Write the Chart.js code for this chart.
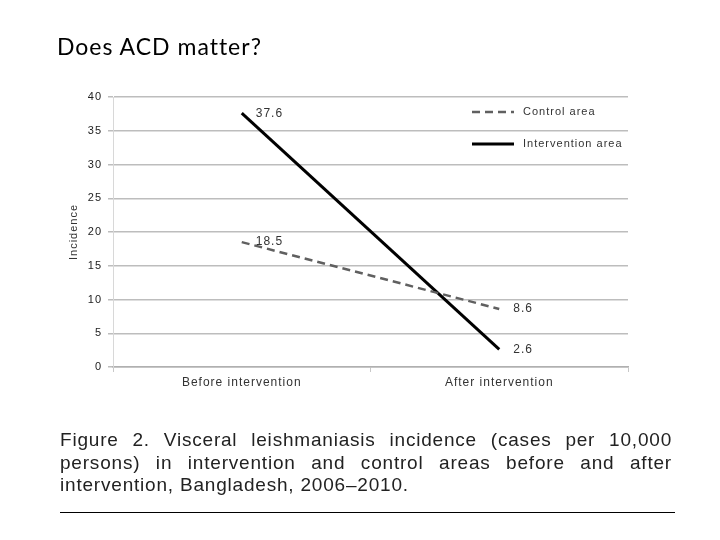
<!DOCTYPE html>
<html>
<head>
<meta charset="utf-8">
<script src="https://cdn.jsdelivr.net/npm/chart.js@4"></script>
<style>
  body { margin: 0; background: #fff; }
  #page { position: relative; width: 720px; height: 540px; overflow: hidden; }
  #chartWrap { position: absolute; left: 0; top: 0; width: 720px; height: 540px; }
  #title { position: absolute; left: 57px; top: 32px; font-family: Lato, sans-serif; font-size: 23px; letter-spacing: 1px; font-variant-ligatures: none; color: #000; }
  #caption { position: absolute; left: 60px; top: 429px; width: 612px; font-family: "Liberation Sans", Arial, sans-serif; font-size: 19px; letter-spacing: 0.8px; line-height: 22.5px; color: #222; }
  #caption div { text-align: justify; text-align-last: justify; white-space: nowrap; }
  #caption div.last { text-align-last: left; }
  #rule { position: absolute; left: 60px; top: 512px; width: 615px; height: 1px; background: #000; }
</style>
</head>
<body>
<div id="page">
  <div id="chartWrap"><canvas id="lineChart"></canvas></div>
  <div id="title">Does ACD matter?</div>
  <div id="caption">
    <div>Figure 2. Visceral leishmaniasis incidence (cases per 10,000</div>
    <div>persons) in intervention and control areas before and after</div>
    <div class="last">intervention, Bangladesh, 2006–2010.</div>
  </div>
  <div id="rule"></div>
</div>
<script>
var categories = ["Before intervention", "After intervention"];
var controlArea = [18.5, 8.6];
var interventionArea = [37.6, 2.6];
var yTicks = [0, 5, 10, 15, 20, 25, 30, 35, 40];

var FONT = '"Liberation Sans", Arial, sans-serif';

// the original figure's text is wide, so space the letters out a bit
var spacing = {
  id: 'spacing',
  beforeDraw: function(chart) {
    chart.ctx.letterSpacing = '1px';
  }
};

// value labels beside each point
var pointLabels = {
  id: 'pointLabels',
  afterDatasetsDraw: function(chart) {
    var ctx = chart.ctx;
    ctx.save();
    ctx.font = '12px ' + FONT;
    ctx.fillStyle = '#333';
    ctx.textAlign = 'left';
    ctx.textBaseline = 'middle';
    chart.data.datasets.forEach(function(ds, i) {
      chart.getDatasetMeta(i).data.forEach(function(pt, j) {
        ctx.fillText(ds.data[j].toFixed(1), pt.x + 14, pt.y);
      });
    });
    ctx.restore();
  }
};

// legend sits inside the plot, top right
var innerLegend = {
  id: 'innerLegend',
  afterDraw: function(chart) {
    var ctx = chart.ctx;
    var a = chart.chartArea;
    var x0 = a.right - 156;
    ctx.save();
    ctx.font = '11px ' + FONT;
    ctx.textBaseline = 'middle';
    chart.data.datasets.forEach(function(ds, i) {
      var y = a.top + 15 + i * 32;
      ctx.strokeStyle = ds.borderColor;
      ctx.lineWidth = ds.borderWidth;
      ctx.setLineDash(ds.borderDash || []);
      ctx.beginPath();
      ctx.moveTo(x0, y);
      ctx.lineTo(x0 + 42, y);
      ctx.stroke();
      ctx.fillStyle = '#333';
      ctx.fillText(ds.label, x0 + 51, y);
    });
    ctx.restore();
  }
};

var ctx = document.getElementById("lineChart").getContext('2d');
var myLineChart = new Chart(ctx, {
  type: 'line',
  data: {
    labels: categories,
    datasets: [{
        label: "Control area",
        data: controlArea,
        borderColor: '#606060',
        borderWidth: 2.5,
        borderDash: [8, 5],
        pointRadius: 0,
        fill: false
      },
      {
        label: "Intervention area",
        data: interventionArea,
        borderColor: '#000000',
        borderWidth: 3,
        pointRadius: 0,
        fill: false
      }
    ]
  },
  options: {
    responsive: true,
    maintainAspectRatio: false,
    animation: false,
    layout: { padding: { left: 67, top: 97, right: 92, bottom: 143 } },
    plugins: {
      legend: { display: false },
      tooltip: { enabled: false }
    },
    scales: {
      x: {
        offset: true,
        afterFit: function(s) { s.height = 30; },
        grid: { display: true, drawOnChartArea: false, offset: true, color: '#c8c8c8', tickLength: 5 },
        border: { color: '#b0b0b0', width: 1.5 },
        ticks: { color: '#333', font: { family: FONT, size: 12 }, padding: 3 }
      },
      y: {
        min: 0,
        max: 40,
        afterFit: function(s) { s.width = 46; },
        afterBuildTicks: function(s) { s.ticks = yTicks.map(function(v) { return { value: v }; }); },
        title: { display: true, text: 'Incidence', color: '#333', font: { family: FONT, size: 11 }, padding: 0 },
        grid: { color: '#bdbdbd', lineWidth: 1.5, tickLength: 5 },
        border: { color: '#d8d8d8', width: 1 },
        ticks: { color: '#222', font: { family: FONT, size: 11 }, padding: 6 }
      }
    }
  },
  plugins: [spacing, pointLabels, innerLegend]
});
</script>
</body>
</html>
